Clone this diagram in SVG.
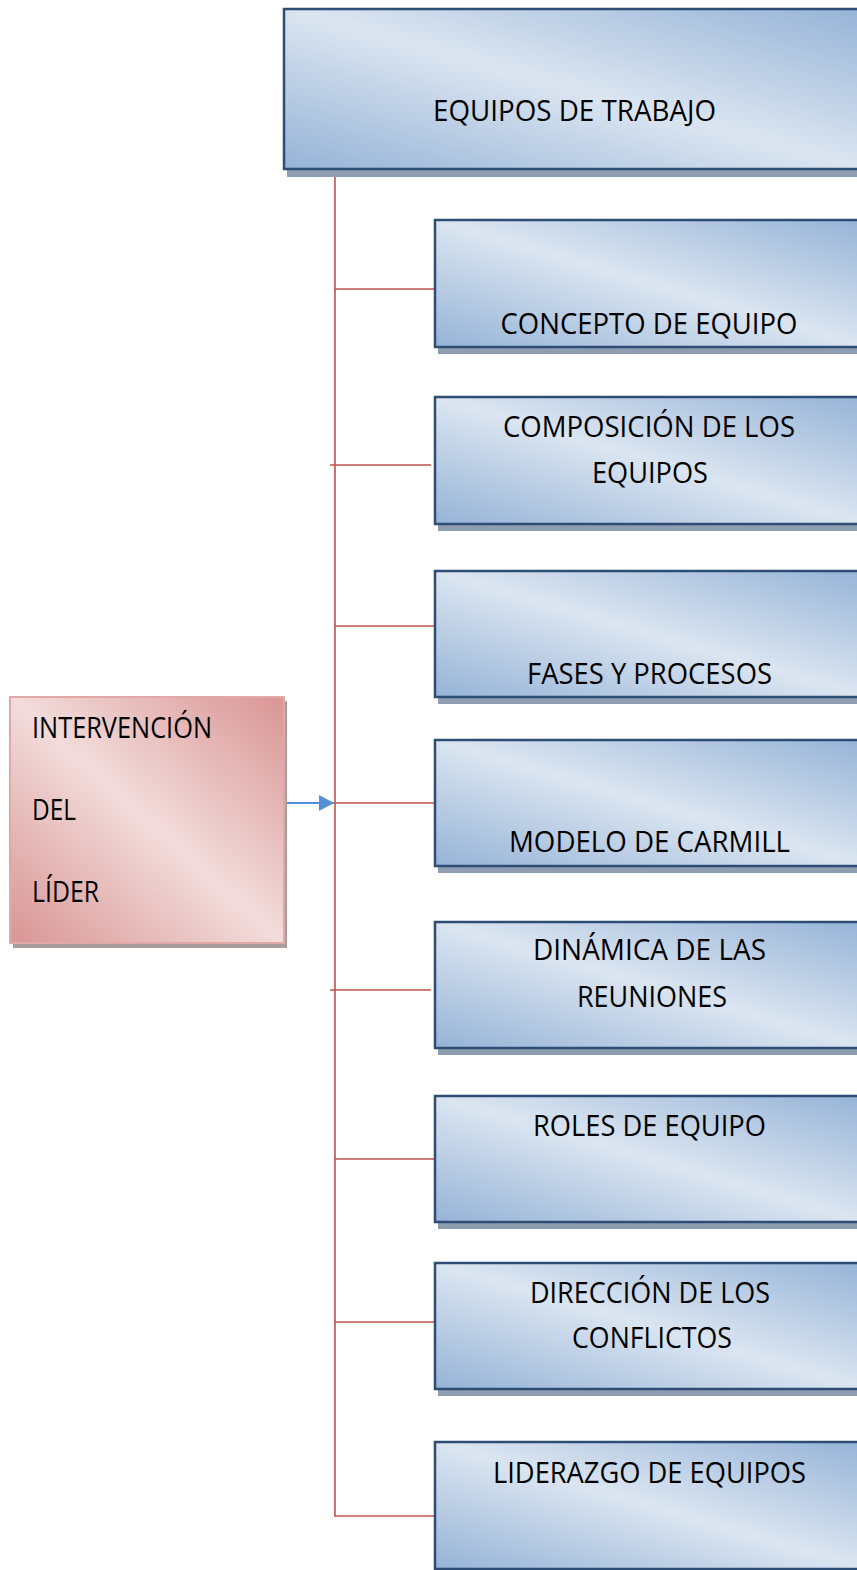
<svg xmlns="http://www.w3.org/2000/svg" width="857" height="1570" viewBox="0 0 857 1570">
<defs>
<linearGradient id="gb" x1="0" y1="1" x2="1" y2="0">
<stop offset="0" stop-color="#95b3d7"/>
<stop offset="0.5" stop-color="#dbe5f1"/>
<stop offset="1" stop-color="#95b3d7"/>
</linearGradient>
<linearGradient id="gr" x1="0" y1="1" x2="1" y2="0">
<stop offset="0" stop-color="#d99594"/>
<stop offset="0.5" stop-color="#f2dcdb"/>
<stop offset="1" stop-color="#d99594"/>
</linearGradient>
<marker id="ah" markerUnits="userSpaceOnUse" markerWidth="16" markerHeight="16" refX="15" refY="8" orient="auto">
<path d="M0,0 L15,8 L0,16 Z" fill="#558ed5"/>
</marker>
<style>
.box{fill:url(#gb);stroke:#2e4d75;stroke-width:2.5}
.sh{fill:#8f9db0}
.rbox{fill:url(#gr);stroke:#e0a8a6;stroke-width:2}
.rsh{fill:#aa9c9c}
.t{font-family:"Open Sans","Liberation Sans",sans-serif;font-size:28.5px;fill:#000}
.m{text-anchor:middle}
.c{fill:none;stroke:#c0504d;stroke-width:1.6}
</style>
</defs>
<g id="connectors">
<line class="c" x1="335" y1="170" x2="335" y2="1516"/>
<line class="c" x1="335" y1="289" x2="435" y2="289"/>
<line class="c" x1="330" y1="465" x2="431" y2="465"/>
<line class="c" x1="335" y1="626" x2="435" y2="626"/>
<line class="c" x1="335" y1="803" x2="435" y2="803"/>
<line class="c" x1="330" y1="990" x2="431" y2="990"/>
<line class="c" x1="335" y1="1159" x2="435" y2="1159"/>
<line class="c" x1="335" y1="1322" x2="435" y2="1322"/>
<line class="c" x1="334" y1="1516" x2="435" y2="1516"/>
<line x1="285" y1="803" x2="334" y2="803" stroke="#558ed5" stroke-width="2" marker-end="url(#ah)"/>
</g>
<g id="n-equipos">
<rect class="sh" x="287" y="12" width="580" height="165"/>
<rect class="box" x="284" y="9" width="580" height="160"/>
<text class="t m" x="574.5" y="121" textLength="283" lengthAdjust="spacingAndGlyphs">EQUIPOS DE TRABAJO</text>
</g>
<g id="n-concepto">
<rect class="sh" x="438" y="224" width="430" height="130"/>
<rect class="box" x="435" y="220" width="430" height="127"/>
<text class="t m" x="649" y="334" textLength="297" lengthAdjust="spacingAndGlyphs">CONCEPTO DE EQUIPO</text>
</g>
<g id="n-composicion">
<rect class="sh" x="438" y="401" width="430" height="130"/>
<rect class="box" x="435" y="397" width="430" height="127"/>
<text class="t m" x="649" y="437" textLength="292" lengthAdjust="spacingAndGlyphs">COMPOSICIÓN DE LOS</text>
<text class="t m" x="650" y="483" textLength="116" lengthAdjust="spacingAndGlyphs">EQUIPOS</text>
</g>
<g id="n-fases">
<rect class="sh" x="438" y="575" width="430" height="129"/>
<rect class="box" x="435" y="571" width="430" height="126"/>
<text class="t m" x="649.5" y="684" textLength="245" lengthAdjust="spacingAndGlyphs">FASES Y PROCESOS</text>
</g>
<g id="n-modelo">
<rect class="sh" x="438" y="744" width="430" height="129"/>
<rect class="box" x="435" y="740" width="430" height="126"/>
<text class="t m" x="649.5" y="852" textLength="281" lengthAdjust="spacingAndGlyphs">MODELO DE CARMILL</text>
</g>
<g id="n-dinamica">
<rect class="sh" x="438" y="926" width="430" height="129"/>
<rect class="box" x="435" y="922" width="430" height="126"/>
<text class="t m" x="649.5" y="960" textLength="233" lengthAdjust="spacingAndGlyphs">DINÁMICA DE LAS</text>
<text class="t m" x="652" y="1007" textLength="150" lengthAdjust="spacingAndGlyphs">REUNIONES</text>
</g>
<g id="n-roles">
<rect class="sh" x="438" y="1100" width="430" height="129"/>
<rect class="box" x="435" y="1096" width="430" height="126"/>
<text class="t m" x="649.5" y="1136" textLength="233" lengthAdjust="spacingAndGlyphs">ROLES DE EQUIPO</text>
</g>
<g id="n-direccion">
<rect class="sh" x="438" y="1267" width="430" height="129"/>
<rect class="box" x="435" y="1263" width="430" height="126"/>
<text class="t m" x="650" y="1303" textLength="240" lengthAdjust="spacingAndGlyphs">DIRECCIÓN DE LOS</text>
<text class="t m" x="652" y="1348" textLength="160" lengthAdjust="spacingAndGlyphs">CONFLICTOS</text>
</g>
<g id="n-liderazgo">
<rect class="sh" x="438" y="1446" width="430" height="130"/>
<rect class="box" x="435" y="1442" width="430" height="127"/>
<text class="t m" x="649.5" y="1483" textLength="313" lengthAdjust="spacingAndGlyphs">LIDERAZGO DE EQUIPOS</text>
</g>
<g id="n-intervencion">
<rect class="rsh" x="13" y="701" width="274" height="247"/>
<rect class="rbox" x="10" y="697" width="274" height="246"/>
<text class="t" x="32" y="738" textLength="180" lengthAdjust="spacingAndGlyphs">INTERVENCIÓN</text>
<text class="t" x="32" y="820" textLength="44" lengthAdjust="spacingAndGlyphs">DEL</text>
<text class="t" x="32" y="902" textLength="67" lengthAdjust="spacingAndGlyphs">LÍDER</text>
</g>
</svg>
